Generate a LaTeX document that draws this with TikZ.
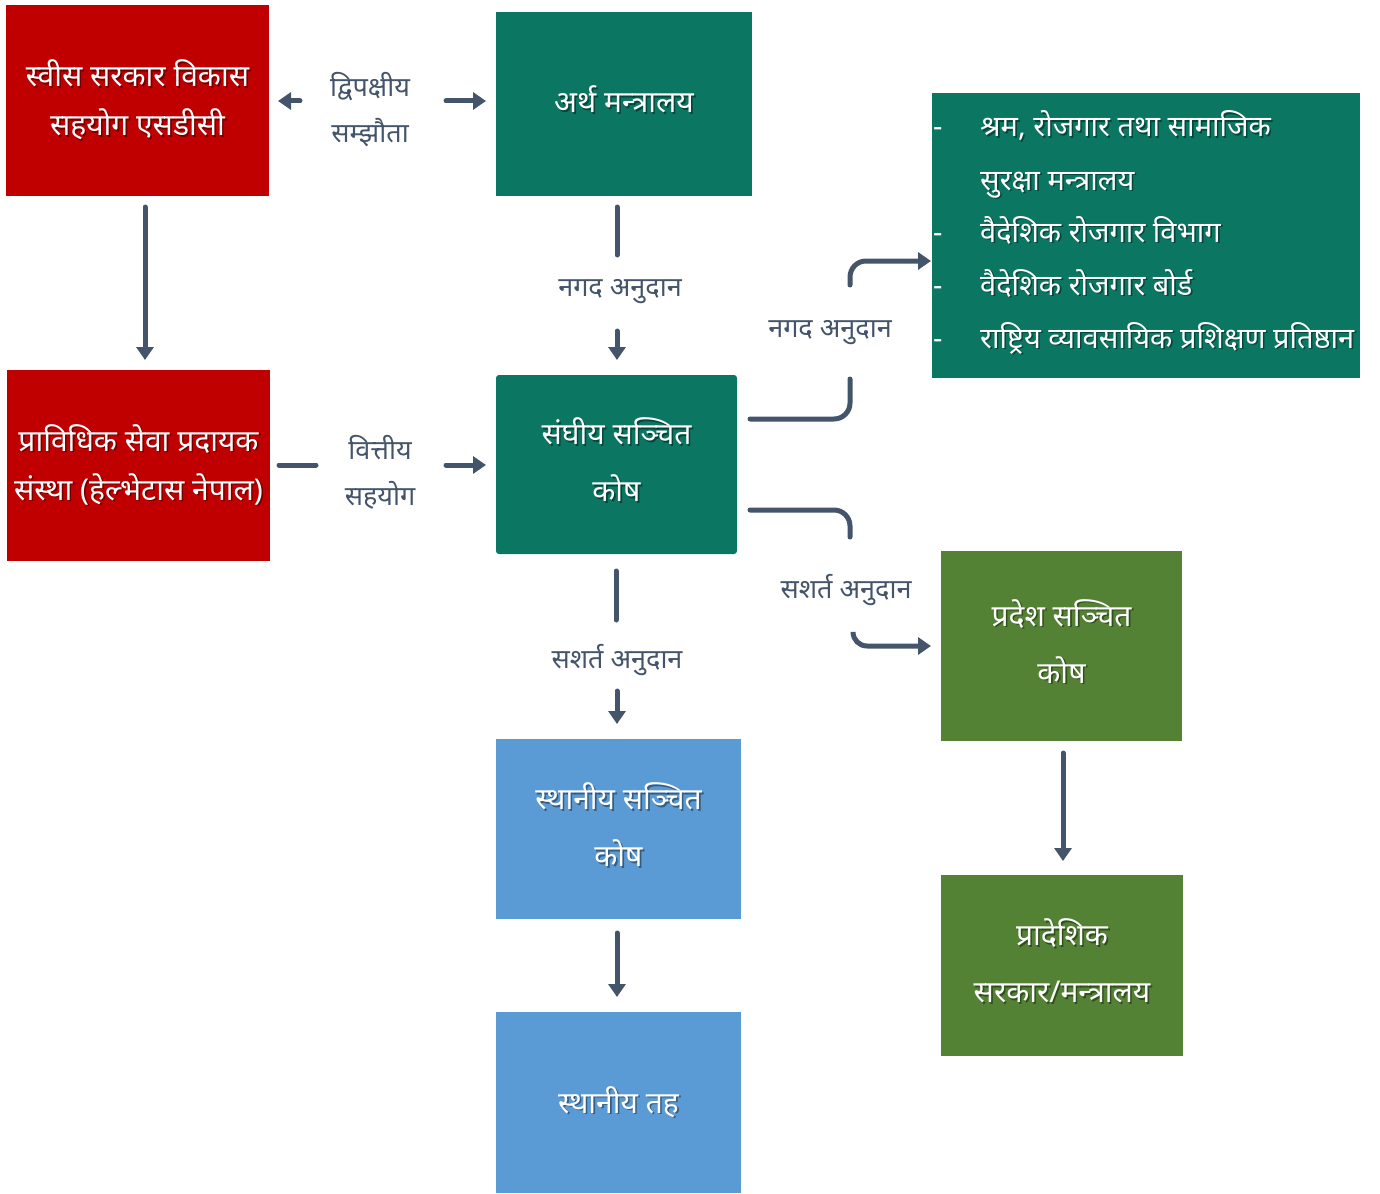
\documentclass[tikz,border=0pt]{standalone}
\usepackage{fontspec}
\newfontfamily\dev[Script=Devanagari]{Noto Sans}
\usetikzlibrary{arrows.meta}
\definecolor{redbox}{HTML}{C00000}
\definecolor{tealbox}{HTML}{0B7662}
\definecolor{olivebox}{HTML}{548235}
\definecolor{bluebox}{HTML}{5B9BD5}
\definecolor{arrowc}{HTML}{44546A}
\newcommand\shtxt[1]{\leavevmode\rlap{\kern1.6pt\raisebox{-1.6pt}{\begingroup\pgfsetfillopacity{0.4}\color{black}#1\pgfsetfillopacity{1}\endgroup}}\pgfsetfillopacity{1}#1}
\newcommand\upt[2]{\raisebox{#1}[\height][\depth]{\shtxt{#2}}}
\begin{document}
\begin{tikzpicture}[x=1pt,y=-1pt,
  box/.style={draw=none, inner sep=0pt, text=white, align=center, font=\dev\fontsize{30}{49}\selectfont},
  widebox/.style={box, font=\dev\fontsize{30}{57}\selectfont},
  lbl/.style={text=arrowc, align=center, inner sep=0pt, font=\dev\fontsize{27}{46}\selectfont},
  conn/.style={draw=arrowc, line width=5pt, line cap=round},
  tip/.style={conn, -{Triangle[length=13pt,width=17pt]}}
]
\useasboundingbox (0,0) rectangle (1380,1193);

% boxes
\node[box, fill=redbox, minimum width=263pt, minimum height=191pt] (sdc) at (137.5,100.5) {\shtxt{स्वीस सरकार विकास}\\\shtxt{सहयोग एसडीसी}};
\node[box, fill=tealbox, minimum width=256pt, minimum height=184pt] (mof) at (624,104) {\upt{4pt}{अर्थ मन्त्रालय}};
\node[box, fill=redbox, minimum width=263pt, minimum height=191pt] (hel) at (138.5,465.5) {\shtxt{प्राविधिक सेवा प्रदायक}\\\shtxt{संस्था (हेल्भेटास नेपाल)}};
\node[widebox, fill=tealbox, minimum width=241pt, minimum height=179pt, rounded corners=3pt] (fcf) at (616.5,464.5) {\upt{4pt}{संघीय सञ्चित}\\\upt{4pt}{कोष}};
\node[box, fill=tealbox, minimum width=428pt, minimum height=285pt] (lst) at (1146,235.5) {};
\node[widebox, fill=olivebox, minimum width=241pt, minimum height=190pt] (pcf) at (1061.5,646) {\upt{4pt}{प्रदेश सञ्चित}\\\upt{4pt}{कोष}};
\node[widebox, fill=olivebox, minimum width=242pt, minimum height=181pt] (pgov) at (1062,965.5) {\upt{3.5pt}{प्रादेशिक}\\\upt{3.5pt}{सरकार/मन्त्रालय}};
\node[widebox, fill=bluebox, minimum width=245pt, minimum height=180pt] (lcf) at (618.5,829) {\upt{3.5pt}{स्थानीय सञ्चित}\\\upt{3.5pt}{कोष}};
\node[box, fill=bluebox, minimum width=245pt, minimum height=181pt] (lgov) at (618.5,1102.5) {\shtxt{स्थानीय तह}};

% list contents
\begin{scope}[every node/.style={text=white, inner sep=0pt, font=\dev\fontsize{29}{29}\selectfont, anchor=base west}]
\node (d1) at (933,137) {-};
\node (i1) at (980,137) {\shtxt{श्रम, रोजगार तथा सामाजिक}};
\node (i1b) at (980,190) {\shtxt{सुरक्षा मन्त्रालय}};
\node (d2) at (933,242) {-};
\node (i2) at (980,242) {\shtxt{वैदेशिक रोजगार विभाग}};
\node (d3) at (933,295) {-};
\node (i3) at (980,295) {\shtxt{वैदेशिक रोजगार बोर्ड}};
\node (d4) at (933,348) {-};
\node (i4) at (980,348) {\shtxt{राष्ट्रिय व्यावसायिक प्रशिक्षण प्रतिष्ठान}};
\end{scope}

% labels
\node[lbl] (l1) at (370,110) {द्विपक्षीय\\सम्झौता};
\node[lbl] (l2) at (620,292) {नगद अनुदान};
\node[lbl] (l3) at (380,472) {वित्तीय\\सहयोग};
\node[lbl] (l4) at (617,660) {सशर्त अनुदान};
\node[lbl] (l5) at (830,333) {नगद अनुदान};
\node[lbl] (l6) at (846,590) {सशर्त अनुदान};

% connectors
\coordinate (a1s) at (300,101); \coordinate (a1e) at (278,101);
\draw[tip] (a1s) -- (a1e);
\coordinate (a2s) at (446,101); \coordinate (a2e) at (486,101);
\draw[tip] (a2s) -- (a2e);
\coordinate (a3s) at (145,207); \coordinate (a3e) at (145,360);
\draw[tip] (a3s) -- (a3e);
\coordinate (a4s) at (617,207); \coordinate (a4e) at (617,255);
\draw[conn] (a4s) -- (a4e);
\coordinate (a5s) at (617,331); \coordinate (a5e) at (617,360);
\draw[tip] (a5s) -- (a5e);
\coordinate (a6s) at (279,465); \coordinate (a6e) at (316,465);
\draw[conn] (a6s) -- (a6e);
\coordinate (a7s) at (446,465); \coordinate (a7e) at (486,465);
\draw[tip] (a7s) -- (a7e);
\coordinate (a8s) at (616,571); \coordinate (a8e) at (616,620);
\draw[conn] (a8s) -- (a8e);
\coordinate (a9s) at (617,691); \coordinate (a9e) at (617,724);
\draw[tip] (a9s) -- (a9e);
\coordinate (a10s) at (617,933); \coordinate (a10e) at (617,997);
\draw[tip] (a10s) -- (a10e);
\coordinate (a11s) at (1063,753); \coordinate (a11e) at (1063,861);
\draw[tip] (a11s) -- (a11e);
% curved connectors from federal fund
\coordinate (c1s) at (750,419); \coordinate (c1e) at (850,379);
\draw[conn, rounded corners=16pt] (c1s) -| (c1e);
\coordinate (c2s) at (850,285); \coordinate (c2e) at (931,261);
\draw[tip, rounded corners=16pt] (c2s) |- (c2e);
\coordinate (c3s) at (750,510); \coordinate (c3e) at (850,537);
\draw[conn, rounded corners=16pt] (c3s) -| (c3e);
\coordinate (c4s) at (853,633); \coordinate (c4e) at (931,646);
\draw[tip, rounded corners=14pt] (c4s) |- (c4e);
\end{tikzpicture}
\end{document}
